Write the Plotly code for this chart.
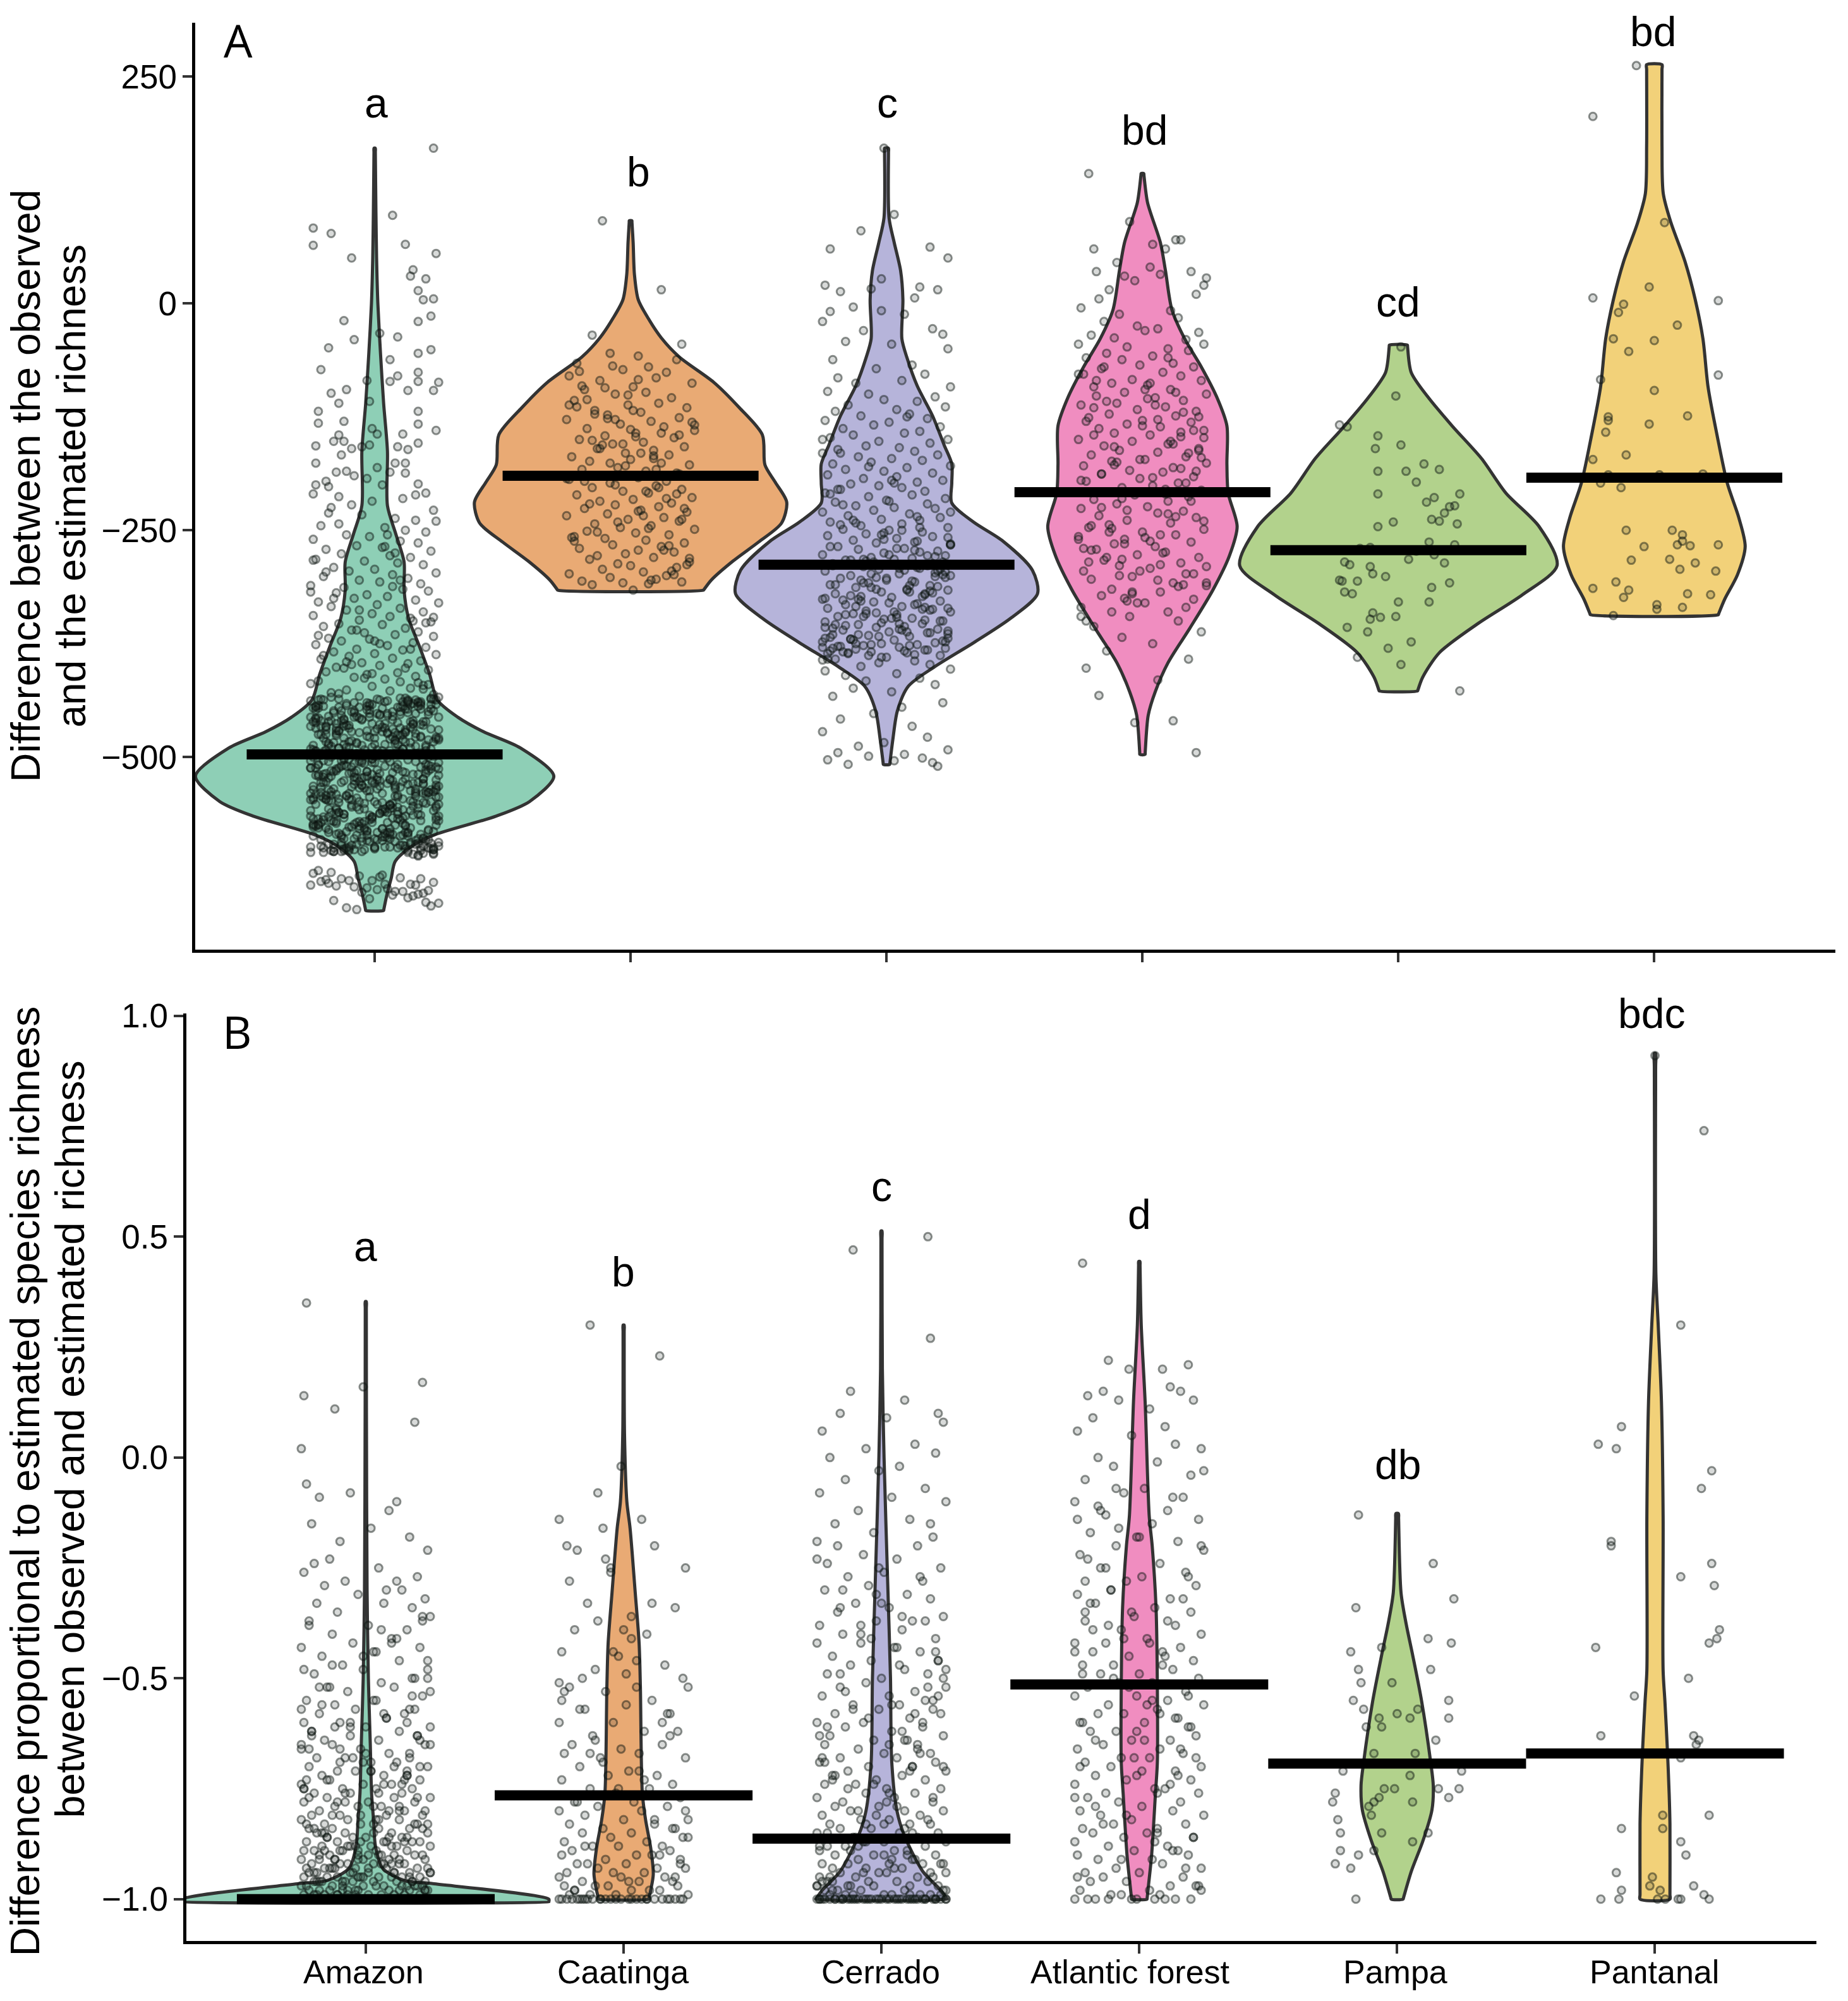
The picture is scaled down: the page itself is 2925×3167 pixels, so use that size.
import plotly.graph_objects as go

categories = ["Amazon", "Caatinga", "Cerrado", "Atlantic forest", "Pampa", "Pantanal"]
colors = ["#8ecfb6", "#e9aa74", "#b6b4da", "#f08dc0", "#b2d28c", "#f2d179"]
letters_a = ["a", "b", "c", "bd", "cd", "bd"]
letters_b = ["a", "b", "c", "d", "db", "bdc"]
means_a = [-497, -190, -288, -208, -272, -192]
means_b = [-1.0, -0.765, -0.863, -0.514, -0.693, -0.67]

# Violin outlines: y level and half width (1/200 of a category step)
vy_a = [
 [171,100,50,0,-56,-110,-163,-223,-254,-285,-316,-347,-378,-409,-437,-456,-472,-490,-521,-549,-565,-586,-599,-615,-633,-652,-669],
 [91,67,32,4,-17,-38,-59,-87,-115,-145,-178,-197,-219,-242,-263,-284,-305,-316],
 [171,94,67,36,4,-39,-60,-91,-124,-156,-177,-198,-220,-241,-262,-294,-320,-347,-374,-401,-422,-449,-480,-508],
 [143,111,67,36,-7,-39,-70,-103,-135,-177,-209,-246,-278,-316,-358,-396,-428,-454,-497],
 [-46,-76,-103,-135,-171,-209,-246,-289,-321,-353,-385,-412,-427],
 [263,174,121,89,46,4,-39,-92,-145,-198,-236,-268,-299,-326,-343],
]
vw_a = [
 [0.5,1,1.5,2.5,4.6,7,10,10,16.5,23,23,26.5,35,43,49,65,85,114,140,121,95,46,28,16,13,9.5,7],
 [1,2,3,6,14,24,38,65,85,103,105,113,122,118,100,80,63,57],
 [1.5,2,6,11,12.8,12,16,24,36,45,51,51,51,68,91,114,118,97,68,37,17,8.5,5,2.5],
 [1,4,14,18,23,33,46,58,66,66,67,74,68,55,37,20,10,4.5,2],
 [7,10,23,42,65,84,110,124,97,62,32,19,15],
 [6,6,7,13,24,32,38,42,49,57,66,71,65,55,50],
]
vy_b = [
 [0.353,0.1,-0.3,-0.5,-0.65,-0.76,-0.82,-0.88,-0.93,-0.958,-0.965,-1.0,-1.006],
 [0.30,0.05,-0.1,-0.16,-0.306,-0.42,-0.52,-0.76,-0.82,-0.884,-0.944,-0.98,-1.0],
 [0.513,0.2,0,-0.3,-0.5,-0.69,-0.8,-0.854,-0.937,-0.98,-1.0],
 [0.444,0.3,0.127,-0.133,-0.2,-0.342,-0.517,-0.69,-0.762,-0.902,-0.972,-1.0],
 [-0.127,-0.306,-0.377,-0.447,-0.552,-0.69,-0.742,-0.798,-0.868,-0.937,-1.0],
 [0.915,0.415,0.3,0.127,-0.133,-0.482,-0.552,-0.66,-0.762,-0.83,-1.0],
]
vw_b = [
 [0.4,0.5,1,2,3.5,4.5,6,7.5,13,30,52,142,142],
 [0.4,0.7,2.5,5,9,12,13,14.5,17,21,23,21,19.5],
 [0.4,0.7,2,5,7,8,12,17.5,32,46,51],
 [0.5,1.5,4.5,7.7,10,13,14,14,12.5,9.5,7,6],
 [1,3,7,12,19,26,28,27,20,11,4.6],
 [0.5,0.7,2.5,5,6.3,6.3,7.7,9.6,11,11.6,11.6],
]

# Jittered points: offset in % of a category step, y in axis units (panel B in hundredths)
amazon_a_dx = [23,7,-24,-17,-24,12,24,-9,15,14,20,17,19,23,22,17,-12,2,9,-8,-18,22,17,6,-21,17,9,6,17,-3,25,23,-11,-17,13,-14,-2,-22,17,-22,-12,17,24,-1,1,-14,-16,-12,11,-23,-9,-5,-2,9,13,17,-13,-23,8,12,1,-11,-15,-8,6,12,-19,-23,-3,17,3,-24,-18,-14,20,16,11,-1,
 -9,-17,23,-18,-5,8,16,-14,-21,4,12,20,-11,-2,-24,10,17,-7,3,-19,22,-13,6,14,-23,-4,9,19,-16,0,-10,24,7,-20,13,-6,2,18,-25,-12,11,21,-15,-3,5,-8,16,-22,25,1,-17,10,-11,19,-1,-24,6,14,-6,22,-14,3,-20,12,-9,17,-4,8,23,-18,-2,-13,15,-23,5,20,-7,11,-16,0,24,-10,7,-21,18,-5,13,2,-15,-12,21,-19,9,-3,16,-8,4,-22,10,-25,19,-1,14,-11,6,-17,23,-6,12,1,
 -20,4,17,-11,24,-3,10,-24,13,-8,21,-16,1,-13,7,25,-22,-5,15,-18,9,-1,19,-25,3,-10,22,-15,12,-6,5,-21,18,-2,-12,24,8,-19,14,-7,0,-24,20,-14,11,-4,6,-23,16,-9,2,23,-17,-1,13,-20,-6,25,9,-12,4,18,-25,-15,21,-3,7,-10,15,-22,1,-18,12,24,-8,-13,5,19,-5,-24,10,-16,22,-2,16,-21,3,-11,8,25,-7,-19,14,0,-14,20,-23,6,-9,17,-4,11,23,-17,2,-12,15,-25,-1,9,-20,18,-6,5,-15,24,12,-10,-22,3,21,-3,-18,13,7,-13,-24,19,-8,1,16,-5,25,-16,10,-21,4,-11,22,-2,8,-19,15,-7,-25,20,-14,6,-23,12,0,-9,17,-4,24,-12,9,-20,2,18,-17,-1,14,-22,5,23,-6,11,-15,19,-10,-24,3,16,-3,7,-18,21,-13,13,-8,25,-21,1,10,-16,-5,22,-11,4,17,-25,8,-2,-19,15,-7,20,-14,-23,6,12,-9,24,0,-17,18,-4,-12,9,-20,2,23,-15,14,-1,-22,5,-6,19,-10,11,
 -23,-20,-17,-14,-12,-9,-6,-3,3,6,9,12,15,18,21,-22,-18,-15,-10,-7,-4,-1,4,8,11,14,17,20,-19,-12,-5,7,13,19,24,-21,-13,10,16,22]
amazon_a_y = [171,97,83,77,64,65,55,50,37,30,27,14,4,5,-14,-20,-19,-33,-37,-40,-49,-51,-55,-62,-73,-76,-80,-86,-86,-85,-87,-96,-95,-99,-96,-110,-108,-119,-119,-132,-130,-133,-140,-138,-144,-145,-152,-152,-144,-157,-160,-158,-156,-158,-161,-154,-167,-176,-176,-176,-181,-185,-186,-190,-186,-187,-196,-200,-193,-199,-200,-210,-202,-213,-209,-211,-215,-218,
 -222,-225,-228,-231,-233,-237,-239,-243,-245,-247,-250,-252,-255,-257,-260,-262,-264,-267,-269,-271,-273,-276,-278,-280,-282,-284,-286,-288,-291,-293,-295,-297,-299,-301,-303,-305,-307,-309,-311,-313,-315,-317,-319,-321,-323,-325,-327,-329,-330,-332,-334,-336,-338,-340,-342,-344,-345,-347,-349,-351,-353,-354,-356,-358,-360,-362,-363,-365,-367,-369,-370,-372,-374,-376,-377,-379,-381,-382,-384,-386,-387,-389,-391,-392,-394,-396,-397,-399,-401,-402,-404,-406,-407,-409,-411,-412,-414,-416,-417,-419,-421,-422,-424,-426,-427,-429,-431,-433,
 -435,-436,-437,-439,-440,-441,-442,-444,-445,-446,-447,-449,-450,-451,-452,-454,-455,-456,-457,-459,-460,-461,-462,-463,-465,-466,-467,-468,-469,-471,-472,-473,-474,-475,-477,-478,-479,-480,-481,-483,-484,-485,-486,-487,-489,-490,-491,-492,-493,-494,-496,-497,-498,-499,-500,-502,-503,-504,-505,-506,-508,-509,-510,-511,-512,-513,-515,-516,-517,-518,-519,-521,-522,-523,-524,-525,-526,-528,-529,-530,-531,-532,-533,-535,-536,-537,-538,-539,-540,-542,-543,-544,-545,-546,-548,-549,-550,-551,-552,-553,-555,-556,-557,-558,-559,-561,-562,-563,-564,-565,-566,-568,-569,-570,-571,-572,-573,-575,-576,-577,-578,-579,-580,-582,-583,-584,-585,-586,-587,-589,-590,-591,-592,-593,-594,-596,-597,-598,-599,-600,-601,-452,-575,-518,-463,-596,-540,-487,-561,-505,-445,-583,-529,-472,-552,-498,-437,-590,-513,-566,
 -632,-634,-627,-636,-640,-625,-645,-638,-631,-648,-642,-650,-636,-628,-630,-641,-644,-652,-639,-647,-634,-655,-643,-661,-637,-646,-633,-658,-649,-664,-666,-640,-651,-641,-648,-656,-635,-653,-668,-660]
amazon_a2_dx = [3,-16,21,-7,12,-24,8,-2,18,-11,25,-19,5,-13,16,0,-22,10,-5,23,-9,14,-17,2,-25,19,-3,7,-14,22,-20,11,-6,24,1,-12,17,-23,6,-8,20,-1,-18,13,-10,25,4,-15,9,-21,16,-4,-24,11,2,-13,23,-7,18,-19,5,-11,21,-2,14,-25,8,-16,0,-6,24,-22,12,-9,19,3,-14,7,-20,17,-3,25,-12,10,-18,22,-5,1,-23,15,-8,6,-15,20,-1,13,-24,9,-10,23,-17,4,-4,18,-21,11,-7,16,-13,2,25,-19,7,-2,-25,21,-11,14,-6,5,-16,19,-22,10,0,-9,24,-14,3,17,-20,12,-3,-24,8,22,-12,-18,15,1,-7,20,-23,6,-15,11,-1,25,-10,16,4,-21,-5,13,-17,23,9,-25,-2,18,-13,7,-19,21,-8,2,14,-22,24,-4,-11,10,-16,17,-6,5,-24,20,-14,0,12,-20,8,-9,23,-1,-18,15,3,-12,19,-23,6,-5,25,-15,11,-21,16,-3,-8,22,1,-25,13,-17,9,-10,18,-2,-13,24,4,-19,7,-6,20,-22,14,-11,-1,17,5,-24,10,-16,23,-7,2,-20,12,-4,19,-14,8,-25,15,0,-9,21,-18,6,-12,25,-3,11,-23,16,-15,3,-5,22,-21,9,-8,18,1,-17,13,-24,24,-10,7,-2,-19,20,-13,4,14,-6,-22,11,17,-16,-1,-25,23,-11,5,-7,19,-20,10,2,15,-14,-4,25,-18,8,-23,12,-9,21,0,-12,6,-3,-21,18,-15,16,-24,3,-8,22,-17,9,13]
amazon_a2_y = [-512,-468,-590,-447,-533,-556,-479,-603,-441,-522,-567,-494,-605,-453,-538,-585,-461,-506,-574,-438,-549,-598,-483,-527,-458,-600,-542,-471,-563,-517,-445,-592,-501,-553,-476,-598,-529,-464,-581,-443,-536,-571,-489,-455,-602,-519,-560,-473,-546,-596,-439,-508,-578,-486,-531,-450,-603,-524,-566,-466,-588,-497,-543,-442,-558,-604,-481,-515,-470,-575,-535,-448,-600,-510,-552,-492,-583,-460,-540,-600,-475,-569,-504,-436,-547,-594,-488,-526,-456,-606,-537,-478,-561,-513,-444,-586,-499,-554,-469,-601,-528,-462,-579,-440,-541,-572,-485,-451,-599,-520,-557,-474,-544,-591,-437,-507,-577,-491,-532,-449,-606,-523,-564,-467,-589,-495,-539,-443,-559,-605,-482,-516,-472,-576,-534,-446,-601,-511,-550,-493,-584,-459,-545,-608,-477,-570,-503,-435,-548,-595,-487,-525,-457,-607,-530,-480,-562,-514,-442,-587,-500,-555,-465,-602,-521,-463,-580,-439,-543,-573,-484,-452,-597,-518,-565,-470,-551,-593,-438,-509,-582,-490,-527,-454,-604,-524,-568,-468,-590,-496,-536,-445,-560,-609,-479,-517,-471,-574,-533,-447,-603,-505,-549,-492,-586,-461,-541,-599,-476,-567,-502,-434,-546,-596,-486,-528,-458,-605,-538,-483,-563,-512,-441,-585,-498,-556,-466,-600,-522,-464,-578,-437,-544,-571,-489,-453,-600,-519,-558,-473,-547,-592,-436,-506,-575,-494,-531,-450,-607,-526,-566,-469,-588,-501,-540,-444,-557,-604,-481,-515,-475,-572,-535,-448,-602,-510,-552,-491,-583,-460,-542,-601,-478,-569,-504,
 -240,-268,-296,-312,-338,-352,-366,-381,-395,-408,-418,-255,-283,-305,-325,-346,-360,-375,-388,-402,-413,-425,-430,-275,-318,-350,-372,-398,-420]
amazon_a3_dx = [-18,9,-3,22,-12,6,-24,15,1,-8,19,-21,11,-5,25,-15,3,-10,17,-23,7,-1,13,-19,23,-7,5,-13,20,-25,10,-4,16,-17,2,24,-11,8,-22,14,-2,-16,21,-6,4,-20,12,-9,18,-24,0,25,-14,7,-3,19,-18,10,-12,23,-8,3,16,-22,-1,13,-25,6,-15,21,-5,9,-19,24,-10,2,17,-23,11,-7,-16,20,4,-13,14,-2,-21,25,-9,7,-24,18,1,-17,12,-5,22,-11,5,-20,15,-3,-25,10,-14,23,0,-8,19,-22,8,-18,13,-6,3,24,-15,-1,17,-12,6,-23,21,-9,11,-4,-19,16,2,-24,25,-13,9,-7,18,-20,4,-2,14,-16,22,-10,7,-25,12,0,-21,20,-5,-14,10,-18,23,3,-8,15,-23,-1,19,-11,6,-17,24,-4,13,-22,1,-12,17,-7,8,-25,21,-15,4,11,-20,-2,16,-9,25,5,-16,-24,12,-6,20,-13,2,18,-19,9,-3,23,-10,14,-21,7,-1,-14,22]
amazon_a3_y = [-487,-552,-463,-598,-521,-444,-576,-505,-541,-472,-589,-435,-533,-560,-451,-495,-583,-515,-441,-568,-478,-603,-526,-456,-547,-493,-594,-468,-537,-579,-509,-439,-563,-484,-528,-599,-449,-543,-501,-572,-461,-519,-587,-437,-554,-490,-534,-470,-596,-511,-448,-565,-482,-539,-601,-458,-524,-581,-498,-443,-558,-474,-545,-592,-507,-436,-570,-486,-530,-455,-600,-516,-549,-466,-585,-492,-441,-535,-574,-503,-460,-597,-523,-479,-556,-446,-540,-590,-512,-469,-566,-438,-527,-582,-496,-452,-604,-518,-547,-476,-578,-488,-434,-562,-531,-465,-593,-508,-442,-544,-571,-500,-457,-588,-522,-483,-553,-447,-536,-599,-513,-471,-567,-440,-529,-580,-494,-459,-602,-517,-550,-478,-575,-489,-437,-559,-525,-463,-591,-506,-445,-542,-569,-502,-454,-595,-520,-481,-555,-449,-538,-584,-510,-467,-564,-436,-532,-577,-497,-461,-603,-514,-548,-473,-573,-491,-443,-561,-528,-464,-586,-504,-450,-546,-600,-499,-456,-590,-519,-485,-557,-439,-534,-579,-511,-468,-568,-444,-526,-583,-493,-453,-597,-516,-551,-475]
caatinga_a_dx = [-11,12,-15,20,-8,3,18,-21,7,-3,14,-24,10,-12,24,1,-18,6,-6,16,-22,11,-1,22,-14,4,-9,19,-25,8,-4,13,-17,25,2,-10,17,-20,5,-7,21,-13,9,-2,15,-23,0,-16,12,23,-5,-19,6,18,-11,3,-24,14,-8,10,-15,20,-3,7,-21,24,1,-12,16,-6,11,-18,4,22,-9,-25,13,-1,19,-14,8,-4,25,-17,2,15,-22,-10,6,21,-7,12,-20,3,17,-2,-13,9,-16,23,-5,0,18,-11,5,-24,14,-8,10,-19,20,-3,7,-15,1,
 -6,9,-17,14,2,-22,19,-10,5,-3,23,-14,11,-20,7,0,16,-8,-24,21,-12,3,13,-18,25,-5,8,-15,18,-1,-23,10,-9,22,4,-16,12,-7,20,-25,1,15,-11,6,-19,17,-2,24,-13,9,-21,3,-6,19]
caatinga_a_y = [91,15,-35,-45,-55,-58,-62,-66,-70,-73,-76,-80,-82,-85,-88,-92,-95,-98,-100,-104,-107,-110,-112,-115,-118,-120,-123,-126,-128,-130,-133,-136,-138,-140,-143,-146,-148,-150,-153,-155,-158,-160,-162,-165,-167,-169,-172,-174,-176,-178,-181,-183,-185,-187,-190,-192,-194,-196,-198,-201,-203,-205,-207,-209,-211,-214,-216,-218,-220,-222,-224,-226,-228,-230,-232,-234,-236,-238,-240,-243,-245,-247,-249,-251,-253,-255,-257,-259,-261,-264,-266,-268,-270,-272,-274,-276,-278,-280,-282,-285,-287,-289,-291,-293,-296,-298,-300,-302,-304,-306,-307,-308,-309,-310,-316,
 -128,-171,-106,-215,-147,-262,-188,-93,-234,-155,-281,-122,-203,-75,-248,-139,-295,-176,-112,-226,-160,-84,-272,-196,-134,-241,-305,-151,-210,-101,-258,-183,-127,-288,-165,-221,-143,-69,-238,-193,-118,-267,-156,-207,-91,-299,-179,-131,-252,-168,-114,-229,-200,-145]
cerrado_a_dx = [-1,3,-10,17,-22,24,-2,-24,13,-6,20,-18,11,-22,-13,-2,7,-25,18,-9,22,-16,2,24,-21,10,-4,15,-19,6,-12,25,-23,-7,19,-1,12,-15,23,4,-20,9,-10,16,-24,1,-5,21,-17,13,7,-13,-22,24,-3,17,-8,5,-19,11,-25,20,-11,2,14,-6,-21,25,8,-16,-1,18,-23,4,-9,22,12,-14,-3,6,-18,15,-24,10,-7,23,0,-20,16,-12,3,19,-5,-25,9,-15,21,-2,13,-22,6,-10,24,-17,1,14,-8,-23,18,4,-13,11,-4,25,-19,7,-11,20,-1,-25,16,-6,3,-16,22,-21,9,-9,13,-3,-24,19,5,-14,23,-18,0,11,-7,-22,17,-12,8,24,-2,-20,15,-10,2,-25,21,-5,12,-16,6,-23,18,-8,25,-13,4,-19,10,-1,22,-24,14,-11,7,-4,20,-17,1,16,-21,-7,9,24,-14,3,-25,19,-2,12,-9,-18,5,23,-12,15,-22,-6,8,-15,21,0,-20,11,-3,17,-10,25,-24,4,-16,13,-8,19,-13,2,-21,22,6,-5,-18,10,-25,16,-1,-11,24,-19,7,-7,14,-23,3,18,-15,20,-4,-9,12,-22,9,1,-17,-12,23,5,25,-6,-20,15,-14,-2,-24,11,8,-10,-21,17,24,
 -16,7,22,-4,13,-23,1,18,-11,25,-8,4,-19,15,-2,10,-25,20,-13,6,-6,23,-17,12,2,-21,16,-9,24,-1,-14,8,19,-24,5,-7,14,-18,21,0,-12,11,-22,17,-5,3,25,-15,9,-20,13,-3,22,-10,6,-25,18,-16,1,24,-8,-23,10,15,-1,-13,20,4,-19,7,-6,23,-21,12,-11,16,-24,2,-4,19,-17,9,25,-14,-7,5,21,-22,11,-2,-18,14,-9,3,24,-25,17,-12,8,-5,20,-20,1,13,-15,22,-3,-23,6,10,-10,18,-1,-16,25,4,-21,15,-7,12,-13,23,-24,7,-19,19,0,-6]
cerrado_a_y = [171,98,80,62,60,50,27,20,18,16,15,13,6,-9,-4,-8,-12,-20,-28,-30,-34,-42,-45,-50,-62,-68,-72,-78,-82,-85,-88,-92,-97,-100,-103,-106,-108,-112,-114,-117,-119,-122,-124,-127,-129,-131,-134,-136,-138,-141,-143,-145,-148,-150,-152,-154,-157,-159,-161,-163,-165,-167,-169,-171,-173,-175,-177,-179,-181,-183,-185,-187,-189,-191,-193,-195,-197,-199,-201,-203,-205,-207,-209,-211,-213,-215,-217,-219,-221,-223,-225,-226,-228,-230,-232,-234,-236,-238,-239,-241,-243,-245,-247,-249,-250,-252,-254,-256,-257,-259,-261,-263,-264,-266,-268,-270,-271,-273,-275,-277,-278,-280,-282,-283,-285,-287,-288,-290,-292,-293,-295,-297,-298,-300,-302,-303,-305,-307,-308,-310,-311,-313,-315,-316,-318,-320,-321,-323,-324,-326,-328,-329,-331,-332,-334,-336,-337,-339,-340,-342,-343,-345,-347,-348,-350,-351,-353,-354,-356,-357,-359,-360,-362,-363,-365,-366,-367,-369,-370,-371,-373,-374,-375,-376,-377,-378,-379,-380,-381,-382,-383,-384,-385,-386,-388,-390,-392,-394,-396,-398,-400,-403,-405,-408,-410,-413,-416,-420,-424,-428,-433,-440,-445,-452,-458,-466,-472,-478,-484,-488,-492,-495,-497,-499,-501,-503,-504,-506,-508,-510,
 -302,-345,-291,-368,-318,-277,-384,-334,-296,-359,-265,-376,-310,-349,-283,-390,-325,-272,-362,-305,-380,-338,-258,-355,-294,-372,-315,-247,-386,-330,-287,-365,-300,-342,-270,-378,-320,-352,-281,-393,-312,-239,-360,-298,-373,-327,-262,-347,-289,-382,-308,-336,-253,-370,-316,-279,-357,-292,-388,-323,-244,-350,-303,-375,-332,-268,-363,-285,-340,-230,-385,-311,-354,-274,-367,-299,-328,-250,-379,-319,-343,-218,-361,-284,-392,-306,-335,-260,-371,-295,-346,-205,-383,-313,-278,-358,-235,-326,-289,-369,-195,-341,-301,-222,-377,-266,-322,-180,-353,-293,-210,-387,-255,-165,-337,-282,-198,-364,-150,-317,-242,-125]
atlantic_a_dx = [-21,-5,4,15,-19,-10,13,-18,-7,9,-3,19,25,24,-13,7,-17,21,-24,3,11,-9,-15,14,-2,22,-20,6,-11,17,-25,1,-6,24,10,-14,18,-22,4,-8,12,-1,20,-16,8,-23,15,-4,23,-12,2,-19,11,-7,25,-18,5,16,-10,-24,9,-2,21,-13,13,-21,0,19,-6,7,-17,24,-11,3,15,-25,-4,10,-15,22,-9,6,-20,17,1,-12,25,-23,12,-5,8,-16,20,-1,-22,14,4,-8,23,-14,-3,18,-19,10,-10,2,-24,16,6,-17,21,-6,11,-13,-21,24,0,13,-25,-7,19,-11,5,-18,9,-2,22,-15,15,-9,3,-23,17,-4,-20,12,25,-12,7,-16,20,1,-24,10,-5,14,-19,23,-8,4,-14,18,-22,6,
 -17,12,-3,21,-22,7,-10,16,1,-14,24,-7,9,-19,3,18,-12,-25,13,-1,22,-16,6,-8,20,-23,10,-4,15,-20,2,25,-11,-6,17,-18,8,-24,14,0,-13,23,-9,5,19,-21,11,-2,-15,24,4,-7,16,-24,-11,20,9,-19,1,13,-4,-16,22,-8,6,-22,17,-12,3,25,-1,-20,10,15,-6,-14,7,21,-25,12]
atlantic_a_y = [143,90,65,70,60,45,70,35,30,60,25,35,28,20,15,32,5,10,-5,40,-8,-12,-20,-16,-25,-32,-35,-28,-38,-40,-45,-30,-48,-45,-50,-55,-52,-60,-58,-62,-66,-68,-70,-72,-76,-78,-80,-84,-85,-88,-90,-92,-95,-98,-100,-102,-104,-107,-110,-112,-114,-117,-119,-122,-124,-126,-129,-131,-133,-136,-138,-140,-143,-145,-147,-150,-152,-155,-157,-160,-162,-164,-167,-169,-172,-174,-176,-179,-181,-184,-186,-188,-191,-193,-196,-198,-201,-203,-206,-208,-211,-213,-216,-218,-221,-224,-226,-229,-231,-234,-236,-239,-242,-244,-247,-249,-252,-255,-257,-260,-263,-265,-268,-271,-274,-277,-280,-283,-286,-289,-292,-295,-298,-301,-304,-308,-311,-315,-318,-322,-326,-330,-335,-340,-345,-350,-356,-362,-368,-375,-383,-392,-402,-415,-432,-460,-462,-495,
 -130,-255,-175,-310,-95,-280,-148,-325,-205,-115,-262,-165,-340,-78,-235,-295,-125,-188,-305,-215,-140,-270,-60,-320,-182,-245,-105,-290,-158,-228,-335,-85,-275,-195,-312,-135,-252,-170,-300,-112,-218,-285,-152,-330,-70,-240,-192,-265,-120,-345,-178,-298,-210,-145,-258,-98,-318,-225,-162,-282,-128,-350,-198,-248,-88,-308,-172,-272,-232,-142,-328,-108,-288,-185,-260,-155,-315,-50,-222,-292]
pampa_a_dx = [1,-1,-23,-20,-8,-9,1,-8,3,10,16,7,-8,24,14,11,22,20,18,13,16,23,-8,-2,12,22,-15,-11,7,14,4,-21,-19,18,-11,-10,-5,-23,-22,-16,20,13,-21,-18,0,12,-10,-11,-7,-1,-20,-12,5,-4,-16,1,24]
pampa_a_y = [-48,-102,-134,-136,-146,-160,-156,-185,-185,-177,-183,-197,-210,-210,-214,-219,-223,-224,-231,-238,-240,-243,-246,-241,-263,-266,-270,-269,-273,-277,-282,-285,-288,-286,-290,-298,-301,-305,-306,-306,-308,-313,-318,-320,-329,-329,-341,-348,-346,-345,-357,-362,-373,-380,-390,-398,-427]
pantanal_a_dx = [-7,-24,4,-2,-24,25,-12,-14,9,-16,0,-10,25,-21,0,-18,-18,13,-2,-19,-11,-24,-18,2,19,-21,-13,-11,7,11,11,9,14,25,-4,6,-9,16,10,24,-15,-24,-10,-12,13,22,1,1,11,-16]
pantanal_a_y = [262,206,89,18,6,3,-1,-10,-24,-39,-41,-53,-79,-84,-96,-125,-129,-124,-133,-142,-167,-172,-189,-189,-188,-198,-203,-250,-250,-255,-262,-266,-267,-266,-268,-282,-283,-286,-293,-295,-307,-314,-316,-324,-320,-321,-332,-337,-335,-344]

amazon_b_dx = [-23,-24,-1,-12,22,-25,19,-6,-23,12,-18,9,-21,2,17,-10,24,-14,5,-24,20,-8,-16,14,-3,23,-19,7,-11,25,-22,1,16,-13,10,-5,21,-25,4,-17,13,-9,24,-1,-20,18,6,-15,11,-7,22,-23,3,-12,19,-4,-18,15,8,-24,-10,25,0,-21,13,-6,20,-16,5,-13,23,-2,-25,17,9,-19,-8,12,2,-22,24,-11,16,-4,-17,7,21,-14,-23,10,-1,18,-9,4,-20,14,-6,25,-15,11,1,-24,19,-12,6,-3,23,-18,15,-10,-21,8,22,-7,-25,13,3,-16,20,-2,-13,17,-22,5,10,-8,24,-19,-5,14,0,-15,21,-23,7,-11,18,2,-17,12,-6,25,-24,4,16,-9,-20,11,-3,22,-14,6,19,-12,-25,9,-1,23,-18,15,-7,-21,3,13,-10,20,-16,-4,24,-23,8,-13,17,1,-19,11,-6,25,-22,5,14,-11,-2,21,-15,10,-24,18,-8,3,-17,23,-5,12,-20,7,-13,16,-1,-25,22,-9,4,19,-18,-3,13,-22,9,24,-14,-7,17,1,-20,11,-11,21,-24,6,15,-4,-16,25,-12,2,-23,19,-8,10,-19,14,-1,23,-6,-21,5,-15,20,-10,12,-25,3,-3,17,-17,8,24,-13,-22,16,-5,1,-18,11,22,-9,-24,6,14,-12,-2,19,-20,9,25,-16,4,-7,-23,13,-11,18,0,-21,21,-14,7,-4,-25,15,-19,23,2,-8,11,-15,-22,17,5,-1,-12,24,-24,10,-6,20,-18,3,13,-10,-20,8,16,-3,
 4,-15,20,-9,12,-22,1,17,-5,24,-13,8,-19,15,-2,22,-25,6,-11,18,-7,11,-16,3,25,-21,9,-3,14,-18,-24,19,0,-12,7,23,-8,-20,16,2,-14,21,-4,10,-23,13,-17,5,24,-10,-1,18,-25,7,-6,15,-19,20,-13,3,-22,11,-2,25,-9,16,-16,6,22,-12,1,-24,14,-5,9,19,-18,-8,23,-21,4,12,-3,-15,17,-25,8,21,-11,-1,13,-20,25,-7,5,18,-14,-23,10,2,-4,16,-17,22,-10,7,-24,14,0,-19,11,20,-6,-13,3,24,-22,9,-2,17]
amazon_b_y = [35,14,16,11,17,2,8,-8,-6,-10,-9,-12,-15,-16,-18,-19,-21,-23,-25,-26,-27,-28,-29,-30,-31,-32,-33,-33,-35,-36,-37,-38,-39,-40,-41,-42,-43,-43,-44,-45,-46,-47,-48,-48,-49,-50,-51,-52,-52,-53,-54,-55,-55,-56,-57,-57,-58,-58,-59,-60,-60,-61,-61,-62,-62,-63,-63,-64,-64,-65,-65,-66,-66,-67,-67,-68,-68,-69,-69,-70,-70,-71,-71,-71,-72,-72,-73,-73,-73,-74,-74,-75,-75,-75,-76,-76,-76,-77,-77,-77,-78,-78,-78,-79,-79,-79,-80,-80,-80,-81,-81,-81,-81,-82,-82,-82,-83,-83,-83,-83,-84,-84,-84,-84,-85,-85,-85,-85,-86,-86,-86,-86,-87,-87,-87,-87,-87,-88,-88,-88,-88,-88,-89,-89,-89,-89,-89,-90,-90,-90,-90,-90,-90,-91,-91,-91,-91,-91,-91,-92,-92,-92,-92,-92,-92,-93,-93,-93,-93,-93,-93,-93,-94,-94,-94,-94,-94,-94,-94,-95,-95,-95,-95,-95,-95,-95,-95,-96,-96,-96,-96,-96,-96,-96,-96,-97,-97,-97,-97,-97,-97,-97,-97,-97,-98,-98,-98,-98,-98,-98,-98,-98,-98,-99,-99,-99,-99,-99,-99,-99,-99,-99,-99,-100,-100,-100,-100,-100,-100,-100,-100,-100,-100,-100,-100,-100,-100,-100,-100,-100,-100,-100,-100,-100,-100,-100,-100,-100,-100,-100,-100,-100,-100,-100,-100,-100,-100,-100,-100,-100,-100,-100,-100,-100,-100,-100,-100,-100,-100,-100,-100,-100,-100,-100,-100,-100,-100,-100,-100,-100,-100,-100,-100,-100,-100,-100,-100,
 -38,-57,-82,-69,-93,-46,-75,-88,-61,-97,-52,-79,-91,-66,-84,-30,-72,-95,-55,-86,-63,-98,-41,-77,-90,-68,-94,-50,-81,-59,-96,-73,-87,-36,-65,-92,-78,-54,-99,-70,-85,-44,-94,-62,-80,-89,-74,-96,-48,-83,-67,-91,-58,-98,-76,-24,-86,-71,-93,-64,-88,-42,-97,-79,-56,-90,-83,-69,-95,-34,-74,-92,-60,-87,-99,-77,-47,-85,-66,-94,-81,-53,-96,-72,-89,-39,-84,-61,-93,-75,-97,-68,-86,-50,-90,-78,-98,-63,-82,-28,-91,-73,-95,-57,-87,-70,-99,-45,-80,-94,-65,-88,-76,-96,-52,-83,-92,-71,-98,-60,-85,-37,-89,-74]
caatinga_b_dx = [-13,14,-1,-10,-25,-8,7,-18,12,-22,-5,24,-14,3,20,-19,9,-24,-2,16,-11,23,-16,5,-7,25,-21,11,1,-15,18,-25,-4,8,21,-12,-20,15,-1,-23,6,-9,24,-17,2,13,-6,-24,19,-13,10,-3,22,-19,4,-10,17,-25,7,-15,25,0,-21,12,-8,20,-16,3,-5,23,-23,9,-12,15,-2,-20,18,5,-24,11,-7,22,-14,1,-18,13,-10,24,-4,-22,8,16,-1,-25,19,-16,6,-11,21,-6,-23,10,3,-19,14,-13,25,-3,-21,-9,17,2,-17,12,-24,-7,20,5,-14,23,-1,-25,9,-12,15,-5,-20,-18,-22,-15,18,22,-9,-3,3,7,
 -16,9,-21,18,-4,12,-24,6,-10,22,1,-18,15,-7,25,-13,3,20,-23,-2,11,-15,17,-8,5,-19,24,0,-11,14,-25,8,-5,19,-17,2]
caatinga_b_y = [30,23,-2,-8,-14,-16,-14,-21,-20,-20,-25,-25,-33,-36,-34,-39,-40,-44,-45,-47,-48,-50,-50,-52,-53,-52,-52,-55,-56,-57,-58,-60,-60,-62,-62,-63,-65,-65,-66,-67,-67,-68,-68,-70,-71,-72,-72,-73,-74,-75,-75,-76,-77,-78,-78,-79,-79,-80,-80,-81,-82,-82,-83,-83,-84,-84,-85,-85,-86,-86,-87,-87,-88,-88,-88,-89,-89,-90,-90,-90,-91,-91,-92,-92,-92,-93,-93,-93,-94,-94,-94,-95,-95,-95,-96,-96,-96,-97,-97,-97,-97,-98,-98,-98,-98,-99,-99,-99,-99,-100,-100,-100,-100,-100,-100,-100,-100,-100,-100,-100,-100,-100,-100,-100,-100,-100,-100,-100,-100,-100,-100,-100,-100,-100,-100,-100,-100,-100,
 -28,-63,-44,-82,-55,-71,-37,-92,-49,-78,-60,-23,-86,-67,-41,-95,-53,-75,-33,-88,-58,-69,-46,-98,-80,-39,-64,-90,-51,-73,-26,-84,-57,-96,-43,-77]
cerrado_b_dx = [-11,18,19,-12,9,22,-16,2,24,-23,-6,13,21,-20,7,-1,-14,17,-24,4,25,-9,11,-18,-3,20,-25,14,-7,6,-21,23,1,-13,16,-5,-22,10,19,-10,3,-17,24,-2,12,-24,8,-15,21,-8,-25,5,15,-19,22,-4,-12,9,-21,18,0,-6,25,-16,13,-23,3,20,-11,7,-1,-18,23,11,-25,-7,16,-14,4,-20,24,-3,10,-22,14,-9,19,1,-16,6,-24,21,-5,12,-13,25,-19,8,-2,17,-22,-10,2,23,-6,13,-25,5,-15,20,-1,-18,9,-12,24,-23,15,-8,3,19,-20,11,-4,-16,22,7,-25,14,-11,1,25,-7,-21,17,-14,5,-24,10,-3,21,-18,12,-9,4,-23,23,-13,16,-6,8,-19,-1,25,-16,2,-24,14,-10,20,-21,6,-5,18,-12,11,-25,22,-3,-17,9,24,-8,-22,15,1,-14,19,-20,4,-11,13,-2,-24,7,21,-6,-18,17,-15,10,-23,3,25,-9,-12,-25,-20,-16,-13,-10,-7,-4,-1,2,5,8,11,14,17,20,23,25,-24,-18,-11,-5,0,6,12,16,21,-22,-15,-8,3,9,18,24,-19,-2,13,
 -19,6,22,-9,14,-25,1,17,-13,24,-4,10,-21,3,19,-7,-16,12,-23,8,25,-11,-2,15,-18,5,21,-24,-6,11,-14,20,0,-20,16,-10,7,23,-3,-17,13,-22,4,18,-8,-25,9,-12,24,2,-15,19,-5,-21,11,6,-19,15,-1,-24,22,-9,3,17,-13,8,-23,25,-6,12,-16,1,20,-11,-20,14,5,-3,23,-18,10]
cerrado_b_y = [47,50,27,15,13,10,10,9,8,6,2,3,1,0,-2,-3,-5,-7,-8,-9,-10,-12,-14,-15,-17,-18,-19,-20,-22,-23,-24,-25,-26,-27,-28,-29,-30,-31,-32,-33,-34,-35,-36,-37,-37,-38,-39,-40,-41,-42,-42,-43,-44,-45,-46,-46,-47,-48,-49,-49,-50,-51,-52,-52,-53,-54,-54,-55,-56,-56,-57,-58,-58,-59,-60,-60,-61,-61,-62,-63,-63,-64,-64,-65,-65,-66,-67,-67,-68,-68,-69,-69,-70,-70,-71,-71,-72,-72,-73,-73,-74,-74,-75,-75,-76,-76,-77,-77,-78,-78,-79,-79,-80,-80,-80,-81,-81,-82,-82,-83,-83,-83,-84,-84,-85,-85,-85,-86,-86,-87,-87,-87,-88,-88,-88,-89,-89,-89,-90,-90,-90,-91,-91,-91,-92,-92,-92,-92,-93,-93,-93,-94,-94,-94,-94,-95,-95,-95,-95,-96,-96,-96,-96,-97,-97,-97,-97,-97,-98,-98,-98,-98,-98,-99,-99,-99,-99,-99,-99,-99,-100,-100,-100,-100,-100,-100,-100,-100,-100,-100,-100,-100,-100,-100,-100,-100,-100,-100,-100,-100,-100,-100,-100,-100,-100,-100,-100,-100,-100,-100,-100,-100,-100,-100,-100,-100,-100,-100,-100,-100,-100,-100,-100,
 -38,-65,-84,-52,-92,-73,-31,-58,-96,-79,-46,-88,-66,-23,-83,-55,-97,-70,-41,-90,-61,-76,-15,-94,-49,-85,-68,-36,-98,-57,-81,-27,-72,-93,-44,-63,-87,-99,-53,-77,-33,-95,-60,-86,-47,-99,-74,-20,-91,-69,-56,-82,-40,-97,-64,-89,-50,-78,-30,-94,-59,-85,-71,-43,-98,-67,-25,-88,-54,-80,-92,-37,-75,-62,-96,-48,-83,-70,-34,-90,-57]
atlantic_b_dx = [-22,-12,9,-4,12,19,-20,-14,-8,16,21,4,-18,-24,10,-3,14,24,-16,7,-10,20,-21,2,-6,17,-25,11,-13,23,5,-19,-1,15,-9,25,-23,8,-15,18,1,-5,22,-11,-24,12,-17,6,20,-2,-21,14,-7,24,3,-13,-25,16,-18,9,-4,21,-10,-22,13,0,-15,23,-8,5,-20,18,-1,-25,11,-12,25,7,-16,-6,15,-23,2,19,-9,-19,22,-3,12,-14,-24,8,17,-7,4,-21,24,-11,14,-1,-17,20,-5,-25,10,6,-13,23,-20,-8,16,1,-23,13,-15,25,-3,-10,18,7,-22,3,-18,21,-6,-25,11,-12,15,-2,-24,19,5,-16,9,-9,24,-21,0,-14,17,-5,-19,22,12,-23,4,-11,-7,8,-1,20,6,-17,-25,14,-3,-12,10,-20,
 -19,8,-24,15,-6,21,-13,2,-22,18,-9,11,-17,5,24,-2,-25,13,-11,20,-16,7,-4,23,-21,16,0,-14,9,-23,19,-7,3,25,-18,12,-1,-20,6,-10,17,-24,22,-15,10,-5,14,-21,1,-12,24,-8,19,-25,4,-17,13,7,-3,-22]
atlantic_b_y = [44,22,20,20,16,21,14,15,13,15,13,11,9,6,7,5,3,2,0,-1,-2,-4,-5,-7,-8,-9,-10,-12,-13,-14,-15,-17,-18,-19,-20,-21,-22,-24,-25,-26,-27,-28,-29,-30,-31,-32,-33,-34,-35,-36,-37,-38,-39,-40,-41,-42,-42,-43,-44,-44,-45,-46,-47,-47,-48,-49,-49,-50,-51,-51,-52,-53,-54,-54,-55,-56,-56,-57,-58,-58,-59,-60,-60,-61,-62,-62,-63,-64,-64,-65,-66,-66,-67,-68,-68,-69,-70,-70,-71,-72,-72,-73,-73,-74,-75,-75,-76,-76,-77,-78,-78,-79,-80,-80,-81,-81,-82,-83,-83,-84,-84,-85,-85,-86,-86,-87,-88,-88,-89,-89,-90,-90,-91,-91,-92,-93,-93,-94,-94,-95,-95,-96,-96,-97,-97,-98,-98,-99,-99,-99,-100,-100,-100,-100,-100,-100,-100,-100,-100,-100,
 -33,-58,-14,-72,-41,-86,-25,-64,-49,-93,-7,-37,-79,-55,-20,-68,-44,-89,-30,-61,-11,-76,-52,-97,-35,-66,-18,-83,-47,-70,-27,-91,-56,-3,-39,-74,-62,-23,-87,-50,-32,-95,-68,-12,-45,-81,-59,-28,-71,-38,-98,-16,-54,-77,-42,-64,-9,-85,-35,-60]
pampa_b_dx = [-15,14,22,-16,12,21,-18,-6,-15,13,-14,-2,-17,20,-13,0,5,20,8,-7,-12,-6,15,-9,7,-21,25,5,-5,-1,16,24,-24,-25,-7,-9,6,20,-11,-10,-23,-22,-6,12,6,-22,-15,-9,-24,-18,-16]
pampa_b_y = [-13,-24,-32,-34,-41,-42,-44,-43,-48,-48,-51,-51,-55,-55,-57,-58,-59,-59,-57,-59,-61,-61,-64,-67,-67,-71,-71,-72,-75,-75,-75,-75,-76,-78,-77,-78,-78,-77,-79,-81,-82,-85,-85,-85,-87,-89,-90,-89,-92,-93,-100]
pantanal_b_dx = [0,19,10,-13,-22,-15,-17,22,18,-17,22,10,23,25,24,21,-23,13,-8,-21,15,17,16,10,3,21,-13,3,10,12,-15,-1,-2,15,-13,19,2,21,-21,-14,1,4,9,10]
pantanal_b_y = [91,74,30,7,3,2,-19,-3,-7,-20,-24,-27,-29,-39,-41,-42,-43,-50,-54,-63,-63,-64,-65,-68,-81,-81,-84,-84,-87,-90,-94,-95,-97,-97,-98,-99,-98,-100,-100,-100,-100,-100,-100,-100]

points_a = [(amazon_a_dx + amazon_a2_dx + amazon_a3_dx, amazon_a_y + amazon_a2_y + amazon_a3_y),
            (caatinga_a_dx, caatinga_a_y), (cerrado_a_dx, cerrado_a_y),
            (atlantic_a_dx, atlantic_a_y), (pampa_a_dx, pampa_a_y), (pantanal_a_dx, pantanal_a_y)]
points_b = [(amazon_b_dx, amazon_b_y), (caatinga_b_dx, caatinga_b_y), (cerrado_b_dx, cerrado_b_y),
            (atlantic_b_dx, atlantic_b_y), (pampa_b_dx, pampa_b_y), (pantanal_b_dx, pantanal_b_y)]
label_px = [285.5, 489, 691, 887, 1095, 1298]

W, H = 2925, 3167
DW, DH = 1450.0, 1570.0
FONT = "Liberation Sans"
INK = "#333333"

fig = go.Figure()


def tighten(v):
    # extra node beside each end of an outline so the spline keeps the flat ends square
    return [v[0], v[0] + 0.06 * (v[1] - v[0])] + list(v[1:-1]) + [v[-1] + 0.06 * (v[-2] - v[-1]), v[-1]]


def panel(vy, vw, points, means, xa, ya, yscale):
    for i in range(6):
        hw = [w / 200.0 for w in tighten(vw[i])]
        yy = tighten(vy[i])
        xs = [i - w for w in hw] + [i + w for w in reversed(hw)]
        ys = yy + list(reversed(yy))
        fig.add_trace(go.Scatter(x=xs + xs[:1], y=ys + ys[:1], mode="lines", fill="toself", fillcolor=colors[i],
                                 line=dict(color=INK, width=5, shape="spline", smoothing=0.8),
                                 xaxis=xa, yaxis=ya, showlegend=False, hoverinfo="skip", cliponaxis=False))
    for i in range(6):
        pairs = list(zip(points[i][0], points[i][1]))
        fig.add_trace(go.Scatter(x=[i + p[0] / 100.0 for p in pairs], y=[p[1] * yscale for p in pairs],
                                 mode="markers", xaxis=xa, yaxis=ya, showlegend=False, cliponaxis=False,
                                 marker=dict(size=12, color="rgba(40,50,45,0.18)",
                                             line=dict(color="rgba(10,20,15,0.47)", width=3))))
    for i in range(6):
        fig.add_trace(go.Scatter(x=[i - 0.5, i + 0.5], y=[means[i], means[i]], mode="lines",
                                 line=dict(color="black", width=16), xaxis=xa, yaxis=ya,
                                 showlegend=False, hoverinfo="skip", cliponaxis=False))


panel(vy_a, vw_a, points_a, means_a, "x", "y", 1)
panel(vy_b, vw_b, points_b, means_b, "x2", "y2", 0.01)

annotations = []


def note(text, px, py, size, family=FONT, angle=0):
    annotations.append(dict(text=text, x=px / DW, y=1 - py / DH, xref="paper", yref="paper", showarrow=False,
                            xanchor="center", yanchor="middle", textangle=angle,
                            font=dict(family=family, size=size, color="black")))


for t, px, py in zip(letters_a, [295, 501, 696, 898, 1097, 1297], [81, 135, 81, 102, 237, 25]):
    note(t, px, py, 66)
for t, px, py in zip(letters_b, [287, 489, 692, 894, 1097, 1296], [978, 998, 931, 953, 1149, 795]):
    note(t, px, py, 66)
for t, px in zip(categories, label_px):
    note(t, px, 1547, 52)
note("A", 187, 31, 72, "Open Sans")
note("B", 186, 809, 72, "Open Sans")
note("Difference between the observed", 20, 381, 64, angle=-90)
note("and the estimated richness", 56, 381, 64, angle=-90)
note("Difference proportional to estimated species richness", 20, 1162, 64, angle=-90)
note("between observed and estimated richness", 55, 1129, 64, angle=-90)

axis_common = dict(showline=True, linecolor="black", linewidth=5, showgrid=False, zeroline=False, ticks="outside",
                   tickcolor=INK, tickwidth=4, ticklen=15, tickfont=dict(family=FONT, size=53, color="black"))

fig.update_layout(
    width=W, height=H, margin=dict(l=0, r=0, t=0, b=0, autoexpand=False), paper_bgcolor="white", plot_bgcolor="white",
    showlegend=False, annotations=annotations,
    xaxis=dict(domain=[153 / DW, 1440 / DW], range=[-0.702, 5.707], anchor="y", tickvals=list(range(6)),
               showticklabels=False, **axis_common),
    yaxis=dict(domain=[1 - 745 / DH, 1 - 18 / DH], range=[-712, 309], anchor="x", tickvals=[250, 0, -250, -500],
               ticklabelstandoff=-2, **axis_common),
    xaxis2=dict(domain=[146 / DW, 1425 / DW], range=[-0.697, 5.625], anchor="y2", tickvals=list(range(6)),
                showticklabels=False, **axis_common),
    yaxis2=dict(domain=[1 - 1523 / DH, 1 - 795 / DH], range=[-1.095, 1.006], anchor="x2",
                tickvals=[1.0, 0.5, 0.0, -0.5, -1.0], tickformat=".1f", ticklabelstandoff=-2, **axis_common),
)

fig.write_html("out.html", post_script="document.body.style.margin='0';", config={"displayModeBar": False})
